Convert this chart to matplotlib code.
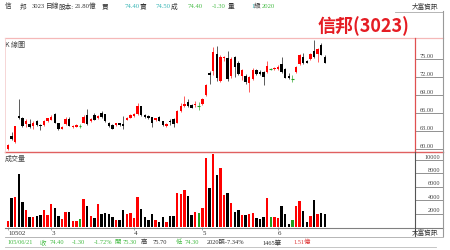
import matplotlib
matplotlib.use('Agg')
import matplotlib.pyplot as plt
from matplotlib.lines import Line2D
from matplotlib.transforms import blended_transform_factory

plt.rcParams['font.family'] = ['Noto Sans CJK TC', 'DejaVu Sans']
SERIF = ['Liberation Serif', 'Noto Sans CJK TC']

# daily candles, 3023 信邦 (Feb - Jun 2016)
opens = [60.0, 62.1, 61.1, 65.5, 65.2, 64.2, 64.2, 63.9, 64.6, 64.0,
         64.0, 64.7, 64.9, 65.9, 64.3, 63.4, 64.1, 65.0, 63.6, 63.7,
         63.9, 64.4, 65.6, 64.6, 65.7, 65.1, 66.0, 65.8, 64.4, 64.0,
         64.0, 64.3, 64.1, 64.9, 65.2, 65.5, 65.8, 67.1, 65.7, 65.5,
         65.3, 64.8, 65.4, 64.6, 63.8, 64.6, 65.0, 64.4, 66.4, 67.1,
         67.8, 67.3, 67.4, 67.1, 67.5, 69.0, 72.6, 73.0, 75.8, 71.4,
         75.1, 75.1, 72.2, 75.3, 74.4, 72.2, 72.2, 71.0, 71.7, 73.1,
         72.9, 72.8, 72.8, 73.3, 73.3, 73.3, 74.1, 73.3, 72.2, 71.7,
         72.8, 74.2, 75.4, 74.7, 75.0, 76.4, 75.8, 77.3, 75.3]
highs = [60.8, 62.8, 63.9, 68.3, 65.3, 65.0, 65.0, 64.6, 64.8, 64.2,
         64.9, 65.2, 65.6, 66.0, 64.4, 63.8, 65.3, 65.3, 64.0, 64.1,
         64.2, 65.6, 66.7, 65.1, 66.0, 65.7, 66.3, 65.9, 64.5, 64.1,
         64.4, 64.4, 65.5, 65.3, 65.8, 66.0, 67.7, 67.2, 65.9, 65.6,
         65.4, 65.2, 65.5, 64.7, 64.3, 65.0, 65.2, 66.5, 67.7, 68.9,
         68.3, 67.5, 68.0, 67.8, 68.5, 70.8, 73.0, 77.0, 77.2, 75.6,
         75.5, 76.4, 75.3, 75.5, 74.6, 73.3, 72.5, 72.2, 73.5, 73.4,
         73.1, 73.0, 74.7, 73.5, 73.7, 74.0, 75.4, 73.5, 72.6, 72.3,
         73.9, 75.8, 76.0, 74.9, 76.0, 78.2, 76.9, 77.6, 75.7]
lows = [59.9, 61.5, 61.0, 65.0, 63.7, 63.6, 63.5, 63.3, 63.8, 63.1,
        63.8, 64.5, 64.8, 64.3, 63.2, 63.3, 64.0, 63.8, 63.5, 63.6,
        63.5, 64.3, 64.0, 64.5, 64.8, 65.0, 65.2, 64.5, 63.7, 63.3,
        63.9, 63.8, 63.3, 64.8, 65.1, 65.3, 65.7, 65.5, 65.2, 65.0,
        63.6, 64.6, 64.6, 63.9, 63.7, 64.0, 63.6, 64.3, 66.2, 67.0,
        67.0, 66.8, 67.0, 66.5, 67.4, 68.9, 70.8, 72.4, 71.3, 71.2,
        74.6, 71.4, 71.8, 72.0, 72.3, 71.5, 70.8, 69.5, 71.5, 72.3,
        72.3, 70.6, 72.6, 73.1, 73.2, 73.2, 72.7, 71.8, 71.6, 71.1,
        72.6, 74.0, 74.2, 74.3, 74.9, 75.2, 74.5, 75.6, 74.3]
closes = [60.7, 61.6, 63.8, 65.2, 63.9, 64.6, 63.6, 64.3, 64.0, 63.8,
          64.7, 65.1, 65.4, 64.4, 63.4, 63.6, 65.0, 63.9, 63.9, 64.0,
          63.9, 65.4, 64.2, 65.0, 64.9, 65.5, 65.4, 64.6, 63.8, 63.4,
          64.3, 64.0, 63.9, 65.2, 65.6, 65.8, 67.1, 65.6, 65.3, 65.2,
          64.3, 65.1, 64.7, 64.0, 64.2, 64.5, 64.2, 66.4, 67.2, 67.5,
          67.2, 66.9, 67.5, 67.1, 68.3, 70.7, 72.4, 76.1, 71.9, 75.3,
          75.3, 71.7, 75.0, 73.6, 72.5, 73.1, 71.1, 72.0, 73.2, 72.5,
          72.5, 72.0, 73.9, 73.3, 73.5, 73.7, 72.8, 71.9, 71.8, 71.7,
          73.7, 75.6, 74.4, 74.4, 75.8, 75.3, 76.7, 75.7, 74.4]
volumes = [900, 4350, 4550, 7900, 3700, 2600, 1500, 1500, 1700, 1850,
           2600, 1850, 3400, 2800, 1700, 1200, 2300, 2200, 850, 850,
           1200, 4200, 3200, 1700, 1400, 3500, 2000, 2100, 1900, 1500,
           1100, 1100, 2600, 1900, 2100, 1400, 4500, 2700, 1450, 1000,
           1900, 1050, 700, 1500, 800, 1700, 1700, 5150, 4950, 5600,
           4650, 1800, 2300, 2100, 2800, 10250, 5800, 10900, 7700, 8800,
           4800, 5150, 3550, 2300, 2600, 1850, 1850, 1900, 2100, 1400,
           1250, 1550, 4400, 1450, 1450, 1300, 3100, 2000, 500, 1100,
           3200, 3950, 2400, 750, 1700, 4000, 2000, 2150, 1950]

month_pos = [0, 12, 35, 54, 75]
month_labels = ['10502', '3', '4', '5', '6']
price_ticks = [75, 72, 69, 66, 63, 60]
vol_ticks = [10000, 8000, 6000, 4000, 2000]

RED = '#ff0000'
BLK = '#000000'
GRN = '#22a022'
TEAL = '#35b4b4'
LGRN = '#44bb44'
GRAY = '#808080'

W, H = 450, 251
fig = plt.figure(figsize=(4.5, 2.51), dpi=100)


def fx(x):
    return x / W


def fy(y):
    return 1 - y / H


def hline(x0, x1, y, color, lw=0.8):
    fig.add_artist(Line2D([fx(x0), fx(x1)], [fy(y), fy(y)], color=color, lw=lw))


def vline(x, y0, y1, color, lw=0.8):
    fig.add_artist(Line2D([fx(x), fx(x)], [fy(y0), fy(y1)], color=color, lw=lw))


ax = fig.add_axes([fx(5), fy(153), fx(415) - fx(5), fy(39) - fy(153)])
axv = fig.add_axes([fx(5), fy(228), fx(415) - fx(5), fy(153) - fy(228)])

n = len(closes)
xs = list(range(n))
cols = []
for o, c in zip(opens, closes):
    cols.append(RED if c > o else (BLK if c < o else GRN))

for i in xs:
    o, h, l, c = opens[i], highs[i], lows[i], closes[i]
    ax.vlines(i, l, h, color=cols[i], lw=0.6, alpha=0.75)
    if c == o:
        ax.hlines(c, i - 0.4, i + 0.4, color=cols[i], lw=0.8)
    else:
        ax.bar(i, abs(c - o), bottom=min(o, c), width=0.7, color=cols[i], lw=0)

axv.bar(xs, volumes, width=0.65, color=cols, lw=0)

for a in (ax, axv):
    a.set_xlim(-0.83, 113.06)
    for s in a.spines.values():
        s.set_visible(False)
    a.set_yticks([])
ax.set_ylim(59.5, 78.5)
axv.set_ylim(0, 11200)
ax.set_xticks([])

axv.set_xticks(month_pos)
axv.set_xticklabels(month_labels, fontsize=5, ha='left', color='#333333', family=SERIF)
axv.tick_params(axis='x', length=2.5, width=0.5, color=GRAY, pad=-0.5)

# right-side scales
tr = blended_transform_factory(ax.transAxes, ax.transData)
for p in price_ticks:
    ax.plot([1.0, 1.068], [p, p], color=GRAY, lw=0.6, transform=tr, clip_on=False)
    ax.text(1.012, p + 0.15, '%.2f' % p, transform=tr, fontsize=4.5,
            va='bottom', ha='left', color='#444444', family=SERIF)
trv = blended_transform_factory(axv.transAxes, axv.transData)
for v in vol_ticks:
    axv.plot([1.0, 1.068], [v, v], color=GRAY, lw=0.6, transform=trv, clip_on=False)
    axv.text(1.062, v + 200, str(v), transform=trv, fontsize=4.5,
             va='bottom', ha='right', color='#444444', family=SERIF)

ax.text(0.0, 0.985, 'K 線圖', transform=ax.transAxes, fontsize=5, va='top', color='#444444')
axv.text(0.0, 0.98, '成交量', transform=axv.transAxes, fontsize=5, va='top', color='#444444')

# frame lines
hline(5, 443, 39, '#f5b8b8', 0.9)
hline(5, 443, 153, '#e06060', 1.0)
hline(5, 443, 228.5, GRAY, 0.8)
hline(5, 443, 237.5, '#aaaaaa', 0.6)
hline(5, 436, 247.5, '#bbbbbb', 0.6)
hline(395, 443, 12.5, '#aaaaaa', 0.6)
vline(415, 39, 153, '#e05050', 0.9)
vline(415, 153, 237, '#555555', 0.8)
vline(443, 12, 237, '#999999', 0.8)
vline(5, 39, 153, '#f5d0d0', 0.6)

# header
hdr = [('信', 5, '#333333'), ('邦', 20, '#333333'), ('3023', 32, '#333333'),
       ('日線', 46, '#333333'), ('股本:', 59, '#333333'), ('21.80億', 75, '#333333'),
       ('買', 102, '#333333'), ('74.40', 125, TEAL), ('賣', 140, '#333333'),
       ('74.50', 156, TEAL), ('成', 171, '#333333'), ('74.40', 188, LGRN),
       ('-1.30', 212, LGRN), ('量', 228, '#333333'), ('1', 251, TEAL),
       ('級', 254, '#333333'), ('2020', 262, LGRN)]
for t, x, c in hdr:
    fig.text(fx(x), fy(6), t, fontsize=4.8, color=c, va='center', ha='left', family=SERIF)
fig.text(fx(438), fy(7), '大富資訊', fontsize=4.8, color='#333333', va='center', ha='right')
fig.text(fx(438), fy(233), '大富資訊', fontsize=4.8, color='#333333', va='center', ha='right')

fig.text(fx(318), fy(26), '信邦(3023)', fontsize=13, color='#e51c23',
         fontweight='bold', va='center', ha='left')

# info row
info = [('105/06/21', 7, LGRN), ('收', 40, LGRN), ('74.40', 50, LGRN),
        ('-1.30', 72, LGRN), ('-1.72%', 94, LGRN), ('開', 114, LGRN),
        ('75.30', 123, LGRN), ('高', 141, '#333333'), ('75.70', 153, '#333333'),
        ('低', 176, LGRN), ('74.30', 185, LGRN), ('2020張-7.34%', 207, '#333333'),
        ('1465筆', 262, '#333333'), ('1.51億', 293, '#e04040')]
for t, x, c in info:
    fig.text(fx(x), fy(242.5), t, fontsize=4.6, color=c, va='center', ha='left', family=SERIF)

fig.savefig('out.png', dpi=100)
